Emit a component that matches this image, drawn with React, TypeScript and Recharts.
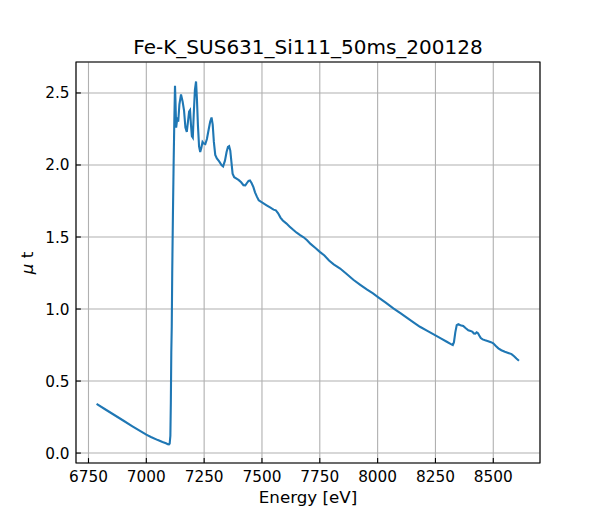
import React from "react";
import {
  CartesianGrid,
  Line,
  LineChart,
  ReferenceArea,
  XAxis,
  YAxis,
} from "recharts";

// Fe K-edge XAFS scan
const ENERGY = [
  6785, 6820, 6860, 6900, 6940, 6980, 7000, 7020, 7050, 7070, 7085, 7093,
  7098, 7101, 7104, 7106, 7108, 7110, 7112, 7115, 7118, 7121, 7124, 7126,
  7129, 7132, 7135, 7138, 7143, 7150, 7157, 7163, 7169, 7175, 7180, 7185,
  7189, 7193, 7197, 7201, 7205, 7210, 7215, 7219, 7223, 7228, 7233, 7238,
  7243, 7248, 7255, 7262, 7270, 7276, 7282, 7287, 7292, 7298, 7305, 7315,
  7325, 7332, 7340, 7347, 7353, 7358, 7363, 7368, 7373, 7380, 7390, 7400,
  7410, 7420, 7428, 7435, 7442, 7448, 7455, 7463, 7470, 7478, 7486, 7495,
  7505, 7520, 7535, 7550, 7560, 7570, 7580, 7590, 7605, 7620, 7635, 7650,
  7665, 7680, 7695, 7710, 7730, 7750, 7770, 7790, 7810, 7838, 7865, 7895,
  7925, 7953, 7980, 8000, 8035, 8068, 8100, 8126, 8155, 8183, 8215, 8250,
  8275, 8299, 8315, 8325, 8330, 8336, 8342, 8349, 8358, 8370, 8380, 8392,
  8402, 8410, 8416, 8422, 8428, 8434, 8440, 8446, 8454, 8465, 8478, 8490,
  8500, 8510, 8522, 8535, 8550, 8565, 8579, 8590, 8600, 8611,
];

const MU_T = [
  0.341, 0.306, 0.266, 0.226, 0.186, 0.147, 0.128, 0.112, 0.09, 0.077, 0.068,
  0.062, 0.06, 0.066, 0.12, 0.35, 0.7, 0.88, 1.25, 1.65, 2.0, 2.3, 2.55, 2.45,
  2.26, 2.3, 2.33, 2.3, 2.42, 2.49, 2.44, 2.38, 2.26, 2.23, 2.3, 2.37, 2.38,
  2.28, 2.2, 2.19, 2.35, 2.52, 2.58, 2.45, 2.28, 2.13, 2.09, 2.12, 2.16, 2.15,
  2.145, 2.18, 2.25, 2.3, 2.33, 2.28, 2.16, 2.07, 2.045, 2.025, 2.0, 1.99,
  2.03, 2.09, 2.125, 2.13, 2.1, 2.02, 1.94, 1.915, 1.905, 1.895, 1.88, 1.86,
  1.858, 1.875, 1.89, 1.893, 1.875, 1.846, 1.81, 1.78, 1.755, 1.745, 1.735,
  1.72, 1.705, 1.69, 1.685, 1.665, 1.635, 1.615, 1.595, 1.572, 1.55, 1.53,
  1.513, 1.498, 1.478, 1.452, 1.425, 1.397, 1.372, 1.337, 1.31, 1.281, 1.245,
  1.203, 1.168, 1.136, 1.108, 1.085, 1.045, 1.005, 0.97, 0.94, 0.908, 0.877,
  0.848, 0.817, 0.795, 0.773, 0.758, 0.75, 0.77, 0.84, 0.888, 0.895, 0.888,
  0.883, 0.868, 0.852, 0.848, 0.842, 0.83, 0.829, 0.838, 0.832, 0.815, 0.798,
  0.789, 0.783, 0.777, 0.77, 0.762, 0.745, 0.727, 0.714, 0.704, 0.695, 0.687,
  0.672, 0.656, 0.641,
];

const X_TICKS = [6750, 7000, 7250, 7500, 7750, 8000, 8250, 8500];
const Y_TICKS = [0, 0.5, 1.0, 1.5, 2.0, 2.5];
const X_DOMAIN: [number, number] = [6696, 8702];
const Y_DOMAIN: [number, number] = [-0.069, 2.715];

const data = ENERGY.map((e, i) => ({ energy: e, mu: MU_T[i] }));

const FONT = "DejaVu Sans";

const XTick = (props: any) => {
  const { x, y, payload } = props;
  return (
    <g>
      <line x1={x} x2={x} y1={y} y2={y - 4.9} stroke="#000" strokeWidth={1.1} />
      <text
        x={x}
        y={y + 19}
        textAnchor="middle"
        fontSize={15.3}
        fontFamily={FONT}
        fill="#000"
      >
        {payload.value}
      </text>
    </g>
  );
};

const YTick = (props: any) => {
  const { x, y, payload } = props;
  return (
    <g>
      <line x1={x} x2={x + 4.9} y1={y} y2={y} stroke="#000" strokeWidth={1.1} />
      <text
        x={x - 6.4}
        y={y + 5.5}
        textAnchor="end"
        fontSize={15.3}
        fontFamily={FONT}
        fill="#000"
      >
        {Number(payload.value).toFixed(1)}
      </text>
    </g>
  );
};

export default function App() {
  return (
    <div style={{ position: "absolute", left: 0, top: 0, background: "#fff" }}>
      <LineChart
        width={600}
        height={520}
        data={data}
        margin={{ top: 62, right: 60, bottom: 0, left: 0 }}
      >
        <CartesianGrid stroke="#b0b0b0" strokeWidth={1.1} />
        <XAxis
          dataKey="energy"
          type="number"
          domain={X_DOMAIN}
          ticks={X_TICKS}
          height={57}
          axisLine={false}
          tickLine={false}
          tickSize={0}
          tickMargin={0}
          tick={<XTick />}
          interval={0}
        />
        <YAxis
          type="number"
          domain={Y_DOMAIN}
          ticks={Y_TICKS}
          width={76}
          axisLine={false}
          tickLine={false}
          tickSize={0}
          tickMargin={0}
          tick={<YTick />}
          interval={0}
        />
        <ReferenceArea
          x1={X_DOMAIN[0]}
          x2={X_DOMAIN[1]}
          y1={Y_DOMAIN[0]}
          y2={Y_DOMAIN[1]}
          fill="none"
          stroke="#000"
          strokeWidth={1.1}
          ifOverflow="visible"
        />
        <Line
          dataKey="mu"
          type="linear"
          stroke="#1f77b4"
          strokeWidth={2.1}
          dot={false}
          isAnimationActive={false}
        />
        <text
          x={308}
          y={54}
          textAnchor="middle"
          fontSize={20}
          fontFamily={FONT}
          fill="#000"
        >
          Fe-K_SUS631_Si111_50ms_200128
        </text>
        <text
          x={308}
          y={503}
          textAnchor="middle"
          fontSize={16.7}
          fontFamily={FONT}
          fill="#000"
        >
          Energy [eV]
        </text>
        <text
          x={33}
          y={263}
          textAnchor="middle"
          fontSize={16.7}
          fontFamily={FONT}
          fill="#000"
          transform="rotate(-90 33 263)"
        >
          <tspan fontStyle="italic">μ</tspan> t
        </text>
      </LineChart>
    </div>
  );
}
